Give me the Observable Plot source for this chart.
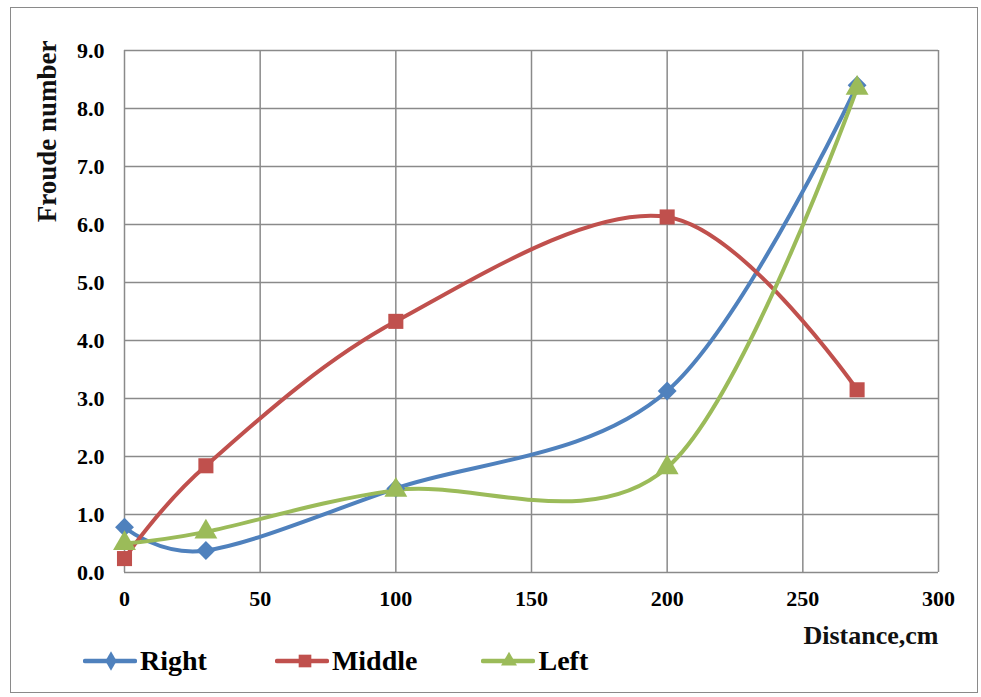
<!DOCTYPE html>
<html><head><meta charset="utf-8">
<script src="https://cdn.jsdelivr.net/npm/d3@7"></script>
<script src="https://cdn.jsdelivr.net/npm/@observablehq/plot@0.6"></script>
<style>
body{margin:0;background:#fff;}
#wrap{position:relative;width:981px;height:697px;overflow:hidden;}
#border{position:absolute;left:10px;top:7px;width:966px;height:684px;border:1.5px solid #8a8a8a;}
#chart{position:absolute;left:0;top:0;}
#legend{position:absolute;left:83px;top:645px;display:flex;font-family:"Liberation Serif","Times New Roman",serif;font-weight:bold;font-size:28px;color:#000;}
#legend .item{display:flex;align-items:center;}
#legend svg{margin-right:3px;}
</style></head>
<body>
<div id="wrap"><div id="border"></div><div id="chart"></div><div id="legend"></div></div>
<script>
const distance = [0, 30, 100, 200, 270];
const right  = [0.78, 0.38, 1.45, 3.13, 8.40];
const middle = [0.24, 1.84, 4.33, 6.13, 3.15];
const left   = [0.50, 0.70, 1.42, 1.81, 8.35];
const seriesNames = ["Right", "Middle", "Left"];
const seriesColors = ["#4F81BD", "#C0504D", "#9BBB59"];
const seriesSymbols = ["diamond2", "square", "triangle"];
const xTicks = [0, 50, 100, 150, 200, 250, 300];
const yTicks = [0, 1, 2, 3, 4, 5, 6, 7, 8, 9];

const valuesBySeries = [right, middle, left];
const data = [];
seriesNames.forEach((s, i) => distance.forEach((d, j) => data.push({series: s, x: d, y: valuesBySeries[i][j]})));

const font = "'Liberation Serif','Times New Roman',serif";
const chart = Plot.plot({
  width: 981, height: 660,
  marginLeft: 124, marginRight: 43, marginTop: 50, marginBottom: 88,
  style: {fontFamily: font, fontWeight: "bold", fontSize: "22px", color: "#000", background: "transparent"},
  x: {domain: [0, 300], ticks: xTicks},
  y: {domain: [0, 9], ticks: yTicks, tickFormat: d3.format(".1f")},
  color: {domain: seriesNames, range: seriesColors},
  symbol: {domain: seriesNames, range: seriesSymbols},
  marks: [
    Plot.gridX(xTicks, {stroke: "#8a8a8a", strokeOpacity: 1, strokeWidth: 1.5}),
    Plot.gridY(yTicks, {stroke: "#8a8a8a", strokeOpacity: 1, strokeWidth: 1.5}),
    Plot.axisX({ticks: xTicks, tickSize: 0, tickPadding: 18, label: null}),
    Plot.axisY({ticks: yTicks, tickSize: 0, tickPadding: 20, label: null, tickFormat: d3.format(".1f")}),
    Plot.line(data, {x: "x", y: "y", z: "series", stroke: "series", strokeWidth: 4, curve: "cardinal"}),
    Plot.dot(data, {x: "x", y: "y", symbol: "series", fill: "series", r: 8.5}),
    Plot.text(["Froude number"], {frameAnchor: "top-left", dx: -88, dy: -10, rotate: -90, textAnchor: "end", fontSize: 27, fill: "#111"}),
    Plot.text(["Distance,cm"], {frameAnchor: "bottom-right", dy: 71, textAnchor: "end", fontSize: 26, fill: "#111"})
  ]
});
document.getElementById("chart").appendChild(chart);

const legend = document.getElementById("legend");
const gaps = [0, 68, 64];
seriesNames.forEach((s, i) => {
  const item = document.createElement("div");
  item.className = "item";
  item.style.marginLeft = gaps[i] + "px";
  const sym = d3.symbol(i === 0 ? d3.symbolDiamond : i === 1 ? d3.symbolSquare : d3.symbolTriangle, i === 1 ? 160 : 110)();
  item.innerHTML = `<svg width="54" height="22"><line x1="2" x2="52" y1="11" y2="11" stroke="${seriesColors[i]}" stroke-width="4.5" stroke-linecap="round"/><path transform="translate(${i===1?30:28},11)" d="${sym}" fill="${seriesColors[i]}"/></svg><span>${s}</span>`;
  legend.appendChild(item);
});
</script>
</body></html>
